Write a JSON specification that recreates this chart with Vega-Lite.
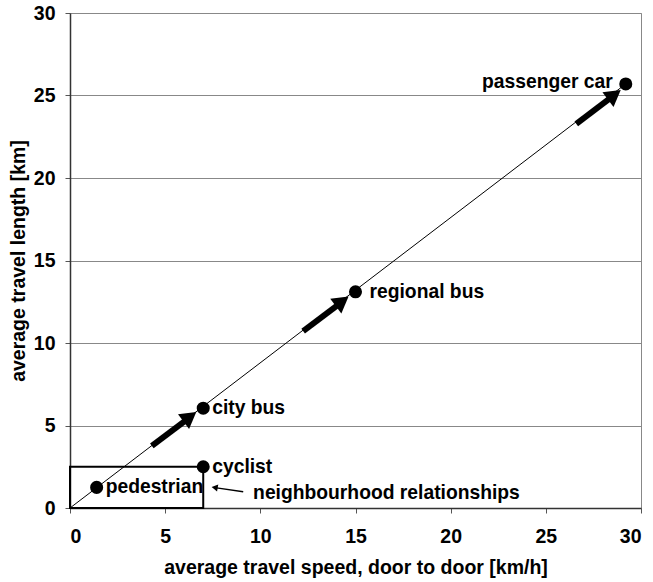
{
  "$schema": "https://vega.github.io/schema/vega-lite/v6.json",
  "autosize": {"type": "none"},
  "padding": {"left": 70, "top": 13, "right": 12, "bottom": 74},
  "width": 571,
  "height": 495,
  "config": {
    "font": "Liberation Sans",
    "view": {"stroke": "#888888", "strokeWidth": 1},
    "axis": {
      "labelFont": "Liberation Sans", "labelFontSize": 19.5, "labelFontWeight": "bold", "labelColor": "#000",
      "titleFont": "Liberation Sans", "titleFontSize": 19.5, "titleFontWeight": "bold", "titleColor": "#000",
      "domainColor": "#333", "domainWidth": 1.5, "tickColor": "#555", "tickSize": 5
    }
  },
  "datasets": {
    "modes": [
      {"mode": "pedestrian", "speed": 1.4, "length": 1.25, "side": "right"},
      {"mode": "cyclist", "speed": 7.0, "length": 2.5, "side": "right"},
      {"mode": "city bus", "speed": 7.0, "length": 6.05, "side": "right"},
      {"mode": "regional bus", "speed": 15.0, "length": 13.1, "side": "right2"},
      {"mode": "passenger car", "speed": 29.2, "length": 25.7, "side": "left"}
    ],
    "trend": [
      {"speed": 0, "length": 0},
      {"speed": 29.2, "length": 25.7}
    ],
    "shafts": [
      {"x": 4.3, "y": 3.76, "x2": 6.1, "y2": 5.33},
      {"x": 12.25, "y": 10.72, "x2": 14.1, "y2": 12.33},
      {"x": 26.6, "y": 23.28, "x2": 28.4, "y2": 24.85}
    ],
    "heads": [
      {"x": 6.3, "y": 5.52},
      {"x": 14.3, "y": 12.52},
      {"x": 28.6, "y": 25.04}
    ],
    "box": [{"x": 0, "x2": 7, "y": 0, "y2": 2.5}],
    "note": [{"x": 9.62, "y": 0.91, "text": "neighbourhood relationships", "ax": 9.1, "ay": 0.99, "ax2": 7.7, "ay2": 1.22, "hx": 7.6, "hy": 1.24}]
  },
  "layer": [
    {
      "data": {"name": "trend"},
      "mark": {"type": "line", "color": "#000", "strokeWidth": 1},
      "encoding": {
        "x": {"field": "speed", "type": "quantitative", "scale": {"domain": [0, 30], "nice": false},
          "axis": {"title": "average travel speed, door to door [km/h]", "values": [0, 5, 10, 15, 20, 25, 30], "grid": false, "labelPadding": 14, "titlePadding": 13}},
        "y": {"field": "length", "type": "quantitative", "scale": {"domain": [0, 30], "nice": false},
          "axis": {"title": "average travel length [km]", "values": [0, 5, 10, 15, 20, 25, 30], "grid": true, "gridColor": "#888", "gridOpacity": 1, "gridWidth": 1, "labelPadding": 10, "titlePadding": 5}}
      }
    },
    {
      "data": {"name": "box"},
      "mark": {"type": "rect", "fill": null, "fillOpacity": 0, "stroke": "#000", "strokeWidth": 2},
      "encoding": {
        "x": {"field": "x", "type": "quantitative"}, "x2": {"field": "x2"},
        "y": {"field": "y", "type": "quantitative"}, "y2": {"field": "y2"}
      }
    },
    {
      "data": {"name": "shafts"},
      "mark": {"type": "rule", "color": "#000", "strokeWidth": 6},
      "encoding": {
        "x": {"field": "x", "type": "quantitative"}, "x2": {"field": "x2"},
        "y": {"field": "y", "type": "quantitative"}, "y2": {"field": "y2"}
      }
    },
    {
      "data": {"name": "heads"},
      "mark": {"type": "point", "shape": "triangle-up", "filled": true, "color": "#000", "opacity": 1, "size": 340, "angle": 53},
      "encoding": {
        "x": {"field": "x", "type": "quantitative"},
        "y": {"field": "y", "type": "quantitative"}
      }
    },
    {
      "data": {"name": "modes"},
      "mark": {"type": "circle", "color": "#000", "opacity": 1, "size": 170},
      "encoding": {
        "x": {"field": "speed", "type": "quantitative"},
        "y": {"field": "length", "type": "quantitative"}
      }
    },
    {
      "data": {"name": "modes"},
      "transform": [{"filter": "datum.side == 'right'"}],
      "mark": {"type": "text", "align": "left", "baseline": "middle", "dx": 9, "fontSize": 19.3, "fontWeight": "bold", "font": "Liberation Sans", "color": "#000"},
      "encoding": {
        "x": {"field": "speed", "type": "quantitative"},
        "y": {"field": "length", "type": "quantitative"},
        "text": {"field": "mode"}
      }
    },
    {
      "data": {"name": "modes"},
      "transform": [{"filter": "datum.side == 'right2'"}],
      "mark": {"type": "text", "align": "left", "baseline": "middle", "dx": 14, "fontSize": 19.3, "fontWeight": "bold", "font": "Liberation Sans", "color": "#000"},
      "encoding": {
        "x": {"field": "speed", "type": "quantitative"},
        "y": {"field": "length", "type": "quantitative"},
        "text": {"field": "mode"}
      }
    },
    {
      "data": {"name": "modes"},
      "transform": [{"filter": "datum.side == 'left'"}],
      "mark": {"type": "text", "align": "right", "baseline": "middle", "dx": -13, "dy": -2, "fontSize": 19.3, "fontWeight": "bold", "font": "Liberation Sans", "color": "#000"},
      "encoding": {
        "x": {"field": "speed", "type": "quantitative"},
        "y": {"field": "length", "type": "quantitative"},
        "text": {"field": "mode"}
      }
    },
    {
      "data": {"name": "note"},
      "mark": {"type": "text", "align": "left", "baseline": "middle", "fontSize": 19.3, "fontWeight": "bold", "font": "Liberation Sans", "color": "#000"},
      "encoding": {
        "x": {"field": "x", "type": "quantitative"},
        "y": {"field": "y", "type": "quantitative"},
        "text": {"field": "text"}
      }
    },
    {
      "data": {"name": "note"},
      "mark": {"type": "rule", "color": "#000", "strokeWidth": 1.5},
      "encoding": {
        "x": {"field": "ax", "type": "quantitative"}, "x2": {"field": "ax2"},
        "y": {"field": "ay", "type": "quantitative"}, "y2": {"field": "ay2"}
      }
    },
    {
      "data": {"name": "note"},
      "mark": {"type": "point", "shape": "triangle-up", "filled": true, "color": "#000", "opacity": 1, "size": 50, "angle": 280},
      "encoding": {
        "x": {"field": "hx", "type": "quantitative"},
        "y": {"field": "hy", "type": "quantitative"}
      }
    }
  ]
}
